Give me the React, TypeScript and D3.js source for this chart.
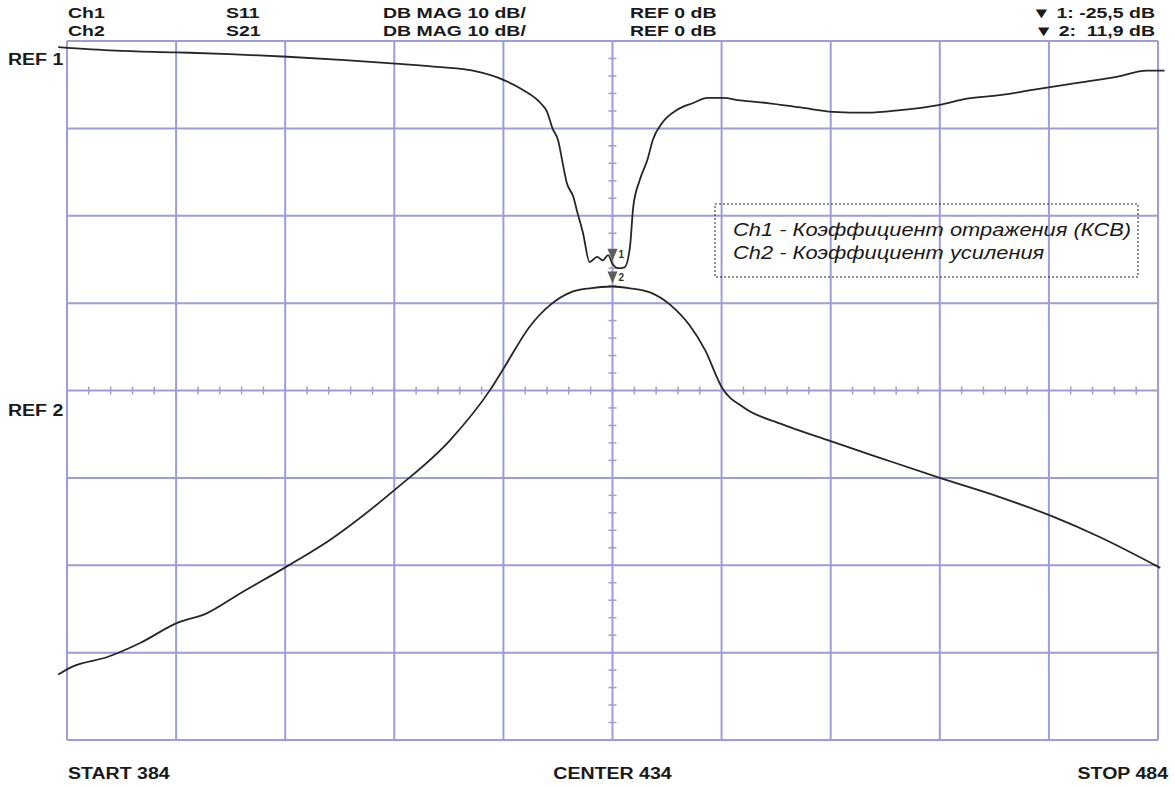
import React from 'react';
import * as d3 from 'd3';

// S11 trace (Ch1), MHz / dB
const ch1Freq = [383.2, 388.4, 394.0, 398.9, 404.2, 409.5, 414.1, 418.2, 421.2, 424.1, 425.8, 427.4, 428.0, 428.5, 429.0, 429.5, 429.8, 430.4, 430.8, 431.3, 431.9, 432.6, 433.1, 433.6, 434.0, 434.5, 435.1, 435.6, 435.9, 436.5, 437.2, 437.7, 438.6, 439.9, 441.4, 442.7, 444.1, 445.7, 448.2, 451.2, 454.2, 457.3, 460.4, 464.0, 466.5, 469.5, 472.5, 477.1, 480.2, 483.0, 484.6];
const ch1Db = [-0.7, -1.1, -1.3, -1.5, -1.8, -2.2, -2.6, -3.0, -3.4, -4.5, -5.6, -7.1, -8.1, -10.0, -11.3, -14.4, -16.2, -17.8, -19.7, -22.0, -25.3, -24.7, -25.1, -24.5, -25.5, -26.0, -25.9, -23.6, -19.0, -15.9, -13.6, -11.3, -9.3, -7.9, -7.1, -6.5, -6.5, -6.8, -7.1, -7.6, -8.1, -8.2, -7.9, -7.3, -6.6, -6.2, -5.6, -4.7, -4.1, -3.4, -3.4];

// S21 trace (Ch2), MHz / dB
const ch2Freq = [383.2, 384.5, 387.7, 390.7, 394.1, 396.8, 399.9, 404.2, 408.1, 414.2, 419.1, 422.8, 424.2, 426.4, 428.3, 430.1, 431.9, 434.0, 435.6, 437.5, 439.3, 441.1, 442.5, 444.0, 446.1, 449.4, 454.0, 458.5, 464.0, 469.5, 474.1, 478.7, 484.2];
const ch2Db = [-32.5, -31.6, -30.5, -28.9, -26.6, -25.5, -23.2, -20.1, -17.1, -11.2, -5.7, 0.1, 2.9, 7.3, 9.8, 11.2, 11.7, 11.9, 11.7, 11.2, 9.8, 7.4, 4.6, 0.4, -2.0, -3.8, -5.8, -7.7, -10.0, -12.2, -14.3, -16.8, -20.3];

const markerFreq = [434, 434];
const markerDb = [-25.5, 11.9];

const channelLabels = ['Ch1', 'Ch2'];
const paramLabels = ['S11', 'S21'];
const formatLabels = ['DB MAG 10 dB/', 'DB MAG 10 dB/'];
const refLabels = ['REF 0 dB', 'REF 0 dB'];
const markerLabels = ['\u25BC 1: -25,5 dB', '\u25BC 2:\u00A0 11,9 dB'];
const legendLabels = ['Ch1 - Коэффициент отражения (КСВ)', 'Ch2 - Коэффициент усиления'];
const startLabel = 'START 384';
const centerLabel = 'CENTER 434';
const stopLabel = 'STOP 484';

const W = 1175;
const H = 787;
const left = 67, right = 1158, top = 41, bottom = 740;
const gridColor = '#9d9dd8';
const traceColor = '#262626';
const font = '"Liberation Sans", Arial, sans-serif';

const Label = (p: { x: number, y: number, text: string, anchor?: string, size?: number, bold?: boolean, italic?: boolean, sx?: number }) => (
  <text
    transform={`translate(${p.x},${p.y}) scale(${p.sx || 1.15},1)`}
    textAnchor={p.anchor || 'start'}
    fontSize={p.size || 17}
    fontWeight={p.bold === false ? 'normal' : 'bold'}
    fontStyle={p.italic ? 'italic' : 'normal'}
    fontFamily={font}
    fill="#1a1a1a"
  >{p.text}</text>
);

const App = () => {
  const x = d3.scaleLinear().domain([384, 484]).range([left, right]);
  const y1 = d3.scaleLinear().domain([-80, 0]).range([bottom, top]);
  const y2 = d3.scaleLinear().domain([-40, 40]).range([bottom, top]);

  const xGrid = d3.range(384, 484.1, 10);
  const yGrid = d3.range(-80, 0.1, 10);
  const xMinor = d3.range(384, 484.1, 2);
  const yMinor = d3.range(-80, 0.1, 2);
  const cx = x(434);
  const cy = y1(-40);

  const line1 = d3.line<number>().x((d, i) => x(ch1Freq[i])).y(d => y1(d)).curve(d3.curveMonotoneX);
  const line2 = d3.line<number>().x((d, i) => x(ch2Freq[i])).y(d => y2(d)).curve(d3.curveMonotoneX);

  const markerY = [y1(markerDb[0]), y2(markerDb[1])];
  const rowY = [18, 35.5];
  const hs = 15;
  const hx = 1.3;

  return (
    <svg width={W} height={H} style={{ position: 'absolute', left: 0, top: 0, background: '#fff' }}>
      <g className="grid" stroke={gridColor} strokeWidth={2} fill="none">
        {xGrid.map((f, i) => <line key={'v' + i} x1={x(f)} x2={x(f)} y1={top} y2={bottom} />)}
        {yGrid.map((v, i) => <line key={'h' + i} x1={left} x2={right} y1={y1(v)} y2={y1(v)} />)}
        {xMinor.map((f, i) => <line key={'mx' + i} x1={x(f)} x2={x(f)} y1={cy - 4} y2={cy + 4} strokeWidth={1.5} />)}
        {yMinor.map((v, i) => <line key={'my' + i} x1={cx - 4} x2={cx + 4} y1={y1(v)} y2={y1(v)} strokeWidth={1.5} />)}
      </g>

      <rect x={715} y={204} width={423} height={73} fill="none" stroke="#222" strokeWidth={1} strokeDasharray="2,2" />
      {legendLabels.map((t, i) => <Label key={'lg' + i} x={733} y={236 + i * 23} text={t} size={17.5} sx={1.25} bold={false} italic />)}

      <path d={line1(ch1Db) || ''} fill="none" stroke={traceColor} strokeWidth={1.8} strokeLinejoin="round" />
      <path d={line2(ch2Db) || ''} fill="none" stroke={traceColor} strokeWidth={1.8} strokeLinejoin="round" />

      {markerFreq.map((f, i) => {
        const mx = x(f);
        const tip = markerY[i] - 3;
        return (
          <g key={'mk' + i}>
            <path d={`M${mx - 5},${tip - 12}L${mx + 5},${tip - 12}L${mx},${tip}Z`} fill="#5e5e5e" />
            <text x={mx + 6} y={tip - 3} fontSize={10} fontWeight="bold" fontFamily={font} fill="#333">{i + 1}</text>
          </g>
        );
      })}

      {channelLabels.map((t, i) => <Label key={'ch' + i} x={68} y={rowY[i]} text={t} size={hs} sx={hx} />)}
      {paramLabels.map((t, i) => <Label key={'pa' + i} x={226} y={rowY[i]} text={t} size={hs} sx={hx} />)}
      {formatLabels.map((t, i) => <Label key={'fm' + i} x={383} y={rowY[i]} text={t} size={hs} sx={hx} />)}
      {refLabels.map((t, i) => <Label key={'rf' + i} x={630} y={rowY[i]} text={t} size={hs} sx={hx} />)}
      {markerLabels.map((t, i) => <Label key={'ml' + i} x={1155} y={rowY[i]} text={t} anchor="end" size={hs} sx={hx} />)}

      <Label x={8} y={65} text="REF 1" />
      <Label x={8} y={416} text="REF 2" />

      <Label x={68} y={779} text={startLabel} />
      <Label x={cx} y={779} text={centerLabel} anchor="middle" />
      <Label x={1168} y={779} text={stopLabel} anchor="end" />
    </svg>
  );
};

export default App;
